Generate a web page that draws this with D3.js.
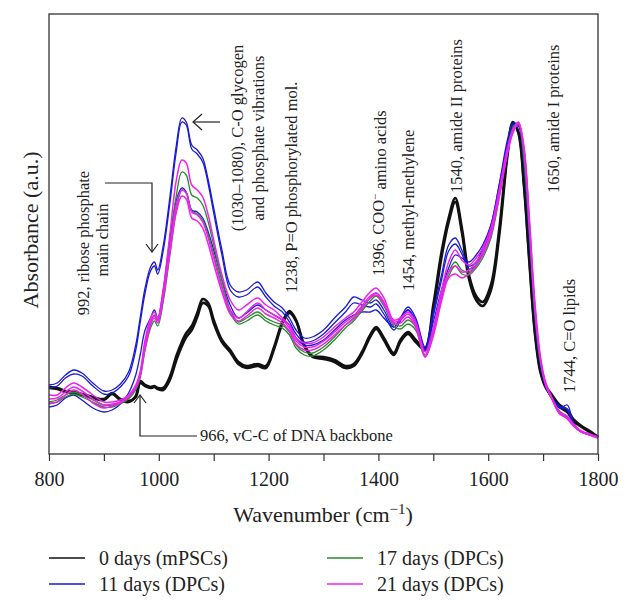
<!DOCTYPE html>
<html>
<head>
<meta charset="utf-8">
<script src="https://cdn.jsdelivr.net/npm/d3@7"></script>
<style>
body { margin: 0; background: #fff; }
svg { display: block; }
</style>
</head>
<body>
<div id="chart"></div>
<script>
// FTIR spectra, values (a.u.)
const wavenumber = [800,815,830,845,860,880,900,915,930,945,
	958,966,975,985,992,998,1008,1020,1032,1042,
	1050,1060,1070,1080,1090,1100,1115,1130,1145,1160,
	1180,1195,1210,1225,1238,1250,1265,1280,1300,1320,
	1340,1355,1370,1385,1396,1410,1428,1440,1454,1468,
	1485,1500,1515,1528,1540,1552,1565,1578,1590,1605,
	1620,1635,1645,1655,1665,1675,1685,1695,1705,1715,
	1730,1744,1755,1770,1785,1800];

const day0_a = [0.66,0.65,0.62,0.61,0.59,0.56,0.54,0.60,0.54,0.52,
	0.58,0.73,0.69,0.67,0.68,0.66,0.66,0.77,0.98,1.12,
	1.21,1.28,1.41,1.55,1.51,1.34,1.14,1.04,0.92,0.88,
	0.90,0.88,1.07,1.32,1.43,1.34,1.09,0.98,0.97,0.94,
	0.88,0.90,1.02,1.19,1.27,1.16,1.01,1.14,1.22,1.14,
	1.06,1.49,2.02,2.36,2.56,2.26,1.79,1.58,1.52,1.69,
	2.24,3.02,3.32,3.21,2.69,1.92,1.21,0.82,0.66,0.58,
	0.47,0.42,0.33,0.27,0.22,0.17];
const day0_b = [0.67,0.66,0.63,0.62,0.60,0.57,0.55,0.61,0.55,0.53,
	0.57,0.71,0.68,0.66,0.67,0.65,0.64,0.74,0.94,1.08,
	1.17,1.24,1.37,1.51,1.48,1.31,1.12,1.02,0.90,0.86,
	0.88,0.86,1.05,1.30,1.41,1.33,1.08,0.97,0.95,0.92,
	0.86,0.88,1.00,1.17,1.25,1.14,0.99,1.12,1.20,1.12,
	1.04,1.44,1.97,2.32,2.52,2.22,1.75,1.54,1.48,1.64,
	2.18,2.98,3.30,3.22,2.72,1.95,1.24,0.84,0.68,0.60,
	0.49,0.44,0.35,0.28,0.23,0.17];

const day11_a = [0.69,0.71,0.79,0.84,0.81,0.71,0.63,0.64,0.70,0.82,
	1.09,1.36,1.66,1.87,1.92,1.84,2.08,2.56,3.09,3.36,
	3.32,3.09,3.04,2.96,2.74,2.46,2.04,1.69,1.62,1.64,
	1.72,1.61,1.52,1.46,1.36,1.24,1.16,1.17,1.24,1.36,
	1.47,1.57,1.54,1.51,1.54,1.44,1.27,1.36,1.47,1.36,
	1.07,1.42,1.79,2.09,2.16,2.04,1.88,1.92,2.06,2.29,
	2.69,3.14,3.31,3.28,2.89,2.14,1.36,0.89,0.67,0.56,
	0.47,0.44,0.29,0.22,0.20,0.17];
const day11_b = [0.66,0.68,0.76,0.80,0.78,0.68,0.60,0.61,0.67,0.78,
	1.04,1.31,1.61,1.83,1.88,1.80,2.03,2.50,3.03,3.32,
	3.29,3.05,3.00,2.92,2.70,2.41,1.99,1.64,1.57,1.59,
	1.67,1.57,1.48,1.42,1.32,1.20,1.12,1.13,1.20,1.31,
	1.42,1.51,1.49,1.47,1.50,1.40,1.24,1.33,1.44,1.33,
	1.05,1.38,1.74,2.03,2.10,2.00,1.85,1.89,2.02,2.25,
	2.64,3.10,3.29,3.30,2.94,2.20,1.40,0.92,0.69,0.57,
	0.48,0.45,0.30,0.22,0.20,0.17];
const day11_c = [0.47,0.49,0.56,0.59,0.54,0.46,0.42,0.44,0.50,0.61,
	0.79,0.99,1.24,1.36,1.44,1.36,1.64,2.14,2.54,2.66,
	2.62,2.44,2.42,2.36,2.22,2.04,1.74,1.49,1.36,1.41,
	1.49,1.44,1.39,1.34,1.29,1.16,1.09,1.09,1.14,1.24,
	1.34,1.39,1.42,1.42,1.44,1.36,1.27,1.36,1.44,1.32,
	1.04,1.32,1.64,1.86,1.99,1.96,1.92,1.99,2.09,2.29,
	2.69,3.09,3.26,3.30,2.94,2.22,1.42,0.92,0.68,0.56,
	0.46,0.49,0.32,0.22,0.20,0.17];

const day17_a = [0.52,0.54,0.59,0.62,0.59,0.54,0.49,0.49,0.52,0.56,
	0.66,0.79,1.09,1.32,1.39,1.34,1.59,2.09,2.59,2.82,
	2.79,2.59,2.56,2.49,2.32,2.09,1.74,1.44,1.32,1.36,
	1.42,1.36,1.32,1.29,1.22,1.09,1.02,1.01,1.07,1.17,
	1.29,1.36,1.46,1.56,1.61,1.51,1.31,1.28,1.34,1.27,
	0.99,1.24,1.59,1.82,1.92,1.84,1.82,1.89,1.99,2.19,
	2.59,3.04,3.26,3.31,2.96,2.22,1.41,0.92,0.69,0.56,
	0.42,0.36,0.30,0.22,0.19,0.17];
const day17_b = [0.50,0.52,0.57,0.60,0.57,0.52,0.47,0.47,0.50,0.55,
	0.64,0.76,1.04,1.26,1.33,1.28,1.52,1.98,2.44,2.64,
	2.61,2.43,2.40,2.34,2.19,1.99,1.68,1.41,1.30,1.33,
	1.39,1.33,1.29,1.26,1.19,1.06,0.99,0.98,1.04,1.14,
	1.26,1.33,1.43,1.53,1.58,1.48,1.28,1.25,1.30,1.24,
	0.97,1.20,1.55,1.78,1.88,1.80,1.79,1.86,1.96,2.16,
	2.56,3.02,3.24,3.31,2.98,2.25,1.44,0.94,0.70,0.57,
	0.43,0.37,0.30,0.22,0.19,0.17];

const day21_a = [0.59,0.59,0.66,0.71,0.67,0.59,0.52,0.52,0.54,0.59,
	0.69,0.82,1.14,1.36,1.42,1.36,1.64,2.19,2.74,2.94,
	2.91,2.69,2.64,2.57,2.39,2.14,1.79,1.54,1.44,1.49,
	1.56,1.49,1.44,1.36,1.29,1.16,1.11,1.11,1.17,1.27,
	1.36,1.42,1.52,1.62,1.66,1.56,1.34,1.36,1.42,1.32,
	1.02,1.26,1.64,1.92,2.04,1.94,1.89,1.96,2.06,2.26,
	2.64,3.06,3.24,3.32,3.06,2.32,1.49,0.96,0.70,0.57,
	0.42,0.38,0.30,0.23,0.20,0.17];
const day21_b = [0.51,0.52,0.59,0.64,0.60,0.51,0.46,0.48,0.51,0.57,
	0.66,0.78,1.06,1.29,1.36,1.31,1.56,2.04,2.49,2.64,
	2.61,2.42,2.39,2.32,2.16,1.96,1.66,1.44,1.36,1.42,
	1.51,1.44,1.39,1.34,1.26,1.13,1.07,1.07,1.13,1.22,
	1.32,1.38,1.48,1.58,1.61,1.52,1.32,1.34,1.40,1.29,
	0.99,1.21,1.57,1.82,1.88,1.82,1.84,1.92,2.02,2.22,
	2.60,3.02,3.22,3.30,3.04,2.29,1.46,0.94,0.68,0.56,
	0.40,0.36,0.29,0.22,0.19,0.16];
const day21_c = [0.55,0.56,0.62,0.67,0.63,0.55,0.49,0.50,0.52,0.58,
	0.67,0.80,1.10,1.32,1.38,1.33,1.58,2.00,2.42,2.58,
	2.55,2.36,2.33,2.26,2.10,1.90,1.62,1.40,1.33,1.38,
	1.46,1.40,1.36,1.31,1.23,1.10,1.04,1.04,1.10,1.19,
	1.29,1.35,1.45,1.56,1.59,1.50,1.30,1.31,1.37,1.27,
	0.97,1.18,1.53,1.76,1.80,1.76,1.80,1.88,1.99,2.19,
	2.57,3.00,3.21,3.31,3.08,2.36,1.52,0.98,0.71,0.58,
	0.41,0.35,0.28,0.22,0.19,0.16];

const groups = ["0 days (mPSCs)", "11 days (DPCs)", "17 days (DPCs)", "21 days (DPCs)"];
const groupColors = ["#111111", "#1a1ad2", "#2a8a2a", "#ee22ee"];
const groupWidths = [2.6, 1.3, 1.3, 1.5];

// each spectrum: [group index, values]
const spectra = [
	[0, day0_a], [0, day0_b],
	[1, day11_a], [1, day11_b], [1, day11_c],
	[2, day17_a], [2, day17_b],
	[3, day21_a], [3, day21_b], [3, day21_c]
];

const xTicks = [800,900,1000,1100,1200,1300,1400,1500,1600,1700,1800];

const width = 632, height = 606;
const SERIF = '"Liberation Serif", "DejaVu Serif", serif';

const svg = d3.select("#chart").append("svg")
	.attr("width", width)
	.attr("height", height)
	.style("font-family", SERIF);

const x = d3.scaleLinear().domain([800, 1800]).range([49, 598]);
const y = d3.scaleLinear().domain([0, 4.4]).range([454, 14]);

const line = d3.line()
	.x(function(d){ return x(d[0]); })
	.y(function(d){ return y(d[1]); })
	.curve(d3.curveCatmullRom.alpha(0.5));

// spectra
svg.append("g").selectAll("path")
	.data(spectra)
	.enter()
	.append("path")
	.attr("fill", "none")
	.attr("stroke", function(d){ return groupColors[d[0]]; })
	.attr("stroke-width", function(d){ return groupWidths[d[0]]; })
	.attr("stroke-linejoin", "round")
	.attr("d", function(d){
		return line(wavenumber.map(function(w, i){ return [w, d[1][i]]; }));
	});

// frame
svg.append("rect")
	.attr("x", 49).attr("y", 14)
	.attr("width", 549).attr("height", 440)
	.attr("fill", "none")
	.attr("stroke", "#333")
	.attr("stroke-width", 1.3);

const xAxis = svg.append("g")
	.attr("transform", "translate(0,454)")
	.call(d3.axisBottom(x)
		.tickValues(xTicks)
		.tickSize(7)
		.tickPadding(11)
		.tickFormat(function(d){ return d % 200 === 0 ? d : ""; }));
xAxis.select(".domain").remove();
xAxis.selectAll("line").attr("stroke", "#333").attr("stroke-width", 1.2);
xAxis.selectAll("text")
	.attr("fill", "#222")
	.style("font-family", SERIF)
	.style("font-size", "20px");

// axis titles
const xt = svg.append("text")
	.attr("x", 323).attr("y", 522)
	.attr("text-anchor", "middle")
	.attr("fill", "#222")
	.style("font-size", "22px");
xt.append("tspan").text("Wavenumber (cm");
xt.append("tspan").attr("dy", -8).style("font-size", "15px").text("\u22121");
xt.append("tspan").attr("dy", 8).text(")");

svg.append("text")
	.attr("transform", "translate(30,230) rotate(-90)")
	.attr("dy", "0.35em")
	.attr("text-anchor", "middle")
	.attr("fill", "#222")
	.style("font-size", "22px")
	.text("Absorbance (a.u.)");

// vertical annotations
const notes = [
	{t: "992, ribose phosphate", x: 83, y: 243, a: "middle"},
	{t: "main chain", x: 102, y: 240, a: "middle"},
	{t: "(1030\u20131080), C-O glycogen", x: 237, y: 138, a: "middle"},
	{t: "and phosphate vibrations", x: 258, y: 138, a: "middle"},
	{t: "1238, P=O phosphorylated mol.", x: 291, y: 293, a: "start"},
	{t: "1454, methyl-methylene", x: 408, y: 291, a: "start"},
	{t: "1540, amide II proteins", x: 456, y: 193, a: "start"},
	{t: "1650, amide I proteins", x: 553, y: 193, a: "start"},
	{t: "1744, C=O lipids", x: 569, y: 393, a: "start"}
];
svg.append("g").selectAll("text")
	.data(notes)
	.enter()
	.append("text")
	.attr("transform", function(d){ return "translate(" + d.x + "," + d.y + ") rotate(-90)"; })
	.attr("dy", "0.35em")
	.attr("text-anchor", function(d){ return d.a; })
	.attr("fill", "#222")
	.style("font-size", "16.5px")
	.text(function(d){ return d.t; });

// COO- needs a superscript
const coo = svg.append("text")
	.attr("transform", "translate(378,276) rotate(-90)")
	.attr("dy", "0.35em")
	.attr("fill", "#222")
	.style("font-size", "16.5px");
coo.append("tspan").text("1396, COO");
coo.append("tspan").attr("dy", "-0.4em").style("font-size", "11px").text("\u2212");
coo.append("tspan").attr("dy", "0.4em").text(" amino acids");

svg.append("text")
	.attr("x", 200).attr("y", 441)
	.attr("fill", "#222")
	.style("font-size", "16.5px")
	.text("966, vC-C of DNA backbone");

// arrows
const arrows = [
	"M105,183H152V251", "M146,244L152,252L158,244",
	"M220,122H193", "M202,114L193,122L202,130",
	"M197,436H140V396", "M134,403L140,395L146,403"
];
svg.append("g").selectAll("path")
	.data(arrows)
	.enter()
	.append("path")
	.attr("d", function(d){ return d; })
	.attr("fill", "none")
	.attr("stroke", "#222")
	.attr("stroke-width", 1.2);

// legend
const legendPos = [[49, 558], [49, 584], [327, 558], [327, 584]];
const legend = svg.append("g").selectAll("g")
	.data(groups)
	.enter()
	.append("g")
	.attr("transform", function(d, i){ return "translate(" + legendPos[i][0] + "," + legendPos[i][1] + ")"; });
legend.append("line")
	.attr("x1", 0).attr("x2", 36)
	.attr("stroke", function(d, i){ return groupColors[i]; })
	.attr("stroke-width", 1.6);
legend.append("text")
	.attr("x", 50).attr("y", 7)
	.attr("fill", "#222")
	.style("font-size", "20px")
	.text(function(d){ return d; });
</script>
</body>
</html>
